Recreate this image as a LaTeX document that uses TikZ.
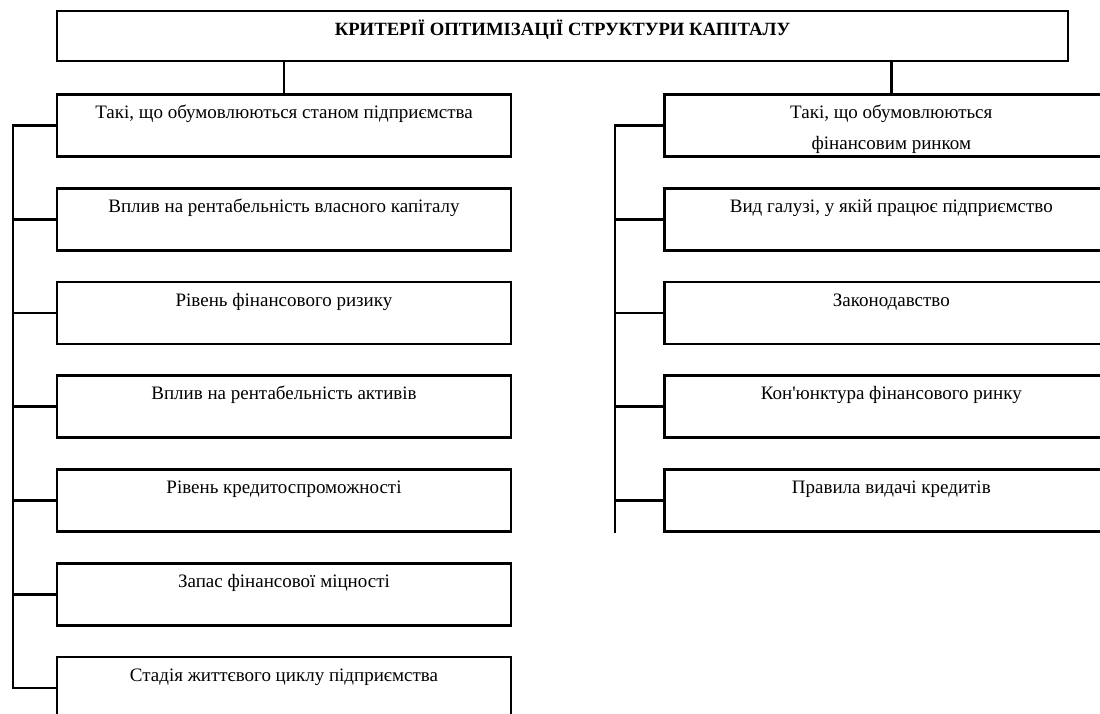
\documentclass[tikz,border=0pt]{standalone}
\usepackage{fontspec}
\setmainfont{Liberation Serif}[Ligatures=TeXOff]
\newcommand\ls{\rule[-5pt]{0pt}{27pt}}
\begin{document}
\begin{tikzpicture}[x=1pt,y=-1pt,
  box/.style={draw, line width=2.6pt, rectangle, minimum width=454pt, minimum height=62pt,
    align=center, inner sep=0pt, font=\fontsize{19}{31}\selectfont},
  tbox/.style={draw, line width=2.6pt, rectangle, minimum width=1011pt, minimum height=50pt,
    inner sep=0pt, text height=10pt, text depth=12pt, font=\bfseries\fontsize{18.7}{22}\selectfont},
  conn/.style={line width=2.6pt}]
\useasboundingbox (0,0) rectangle (1100,713);
\clip (0,0) rectangle (1100,713);
\node[tbox] (T) at (562.5,36) {КРИТЕРІЇ ОПТИМІЗАЦІЇ СТРУКТУРИ КАПІТАЛУ};
% left column
\node[box] (L1) at (284,125.5) {\ls Такі, що обумовлюються станом підприємства\\\ls};
\node[box] (L2) at (284,219.25) {\ls Вплив на рентабельність власного капіталу\\\ls};
\node[box] (L3) at (284,313) {\ls Рівень фінансового ризику\\\ls};
\node[box] (L4) at (284,406.75) {\ls Вплив на рентабельність активів\\\ls};
\node[box] (L5) at (284,500.5) {\ls Рівень кредитоспроможності\\\ls};
\node[box] (L6) at (284,594.25) {\ls Запас фінансової міцності\\\ls};
\node[box] (L7) at (284,688) {\ls Стадія життєвого циклу підприємства\\\ls};
% right column
\node[box, anchor=west] (R1) at (663,125.5) {\ls Такі, що обумовлюються\\\ls фінансовим ринком};
\node[box, anchor=west] (R2) at (663,219.25) {\ls Вид галузі, у якій працює підприємство\\\ls};
\node[box, anchor=west] (R3) at (663,313) {\ls Законодавство\\\ls};
\node[box, anchor=west] (R4) at (663,406.75) {\ls Кон'юнктура фінансового ринку\\\ls};
\node[box, anchor=west] (R5) at (663,500.5) {\ls Правила видачі кредитів\\\ls};
% bracket coordinates
\coordinate (lb) at (13,0);
\coordinate (rb) at (615,0);
% stems
\draw[conn] (T.south -| L1.north) -- (L1.north);
\draw[conn] (T.south -| R1.north) -- (R1.north);
% left bracket
\draw[conn] (L1.west) -- (L1.west -| lb) -- (L7.west -| lb) -- (L7.west);
\foreach \n in {L2,L3,L4,L5,L6} \draw[conn] (\n.west -| lb) -- (\n.west);
% right bracket
\draw[conn] (R1.west) -- (R1.west -| rb) -- (R5.south -| rb);
\foreach \n in {R2,R3,R4,R5} \draw[conn] (\n.west -| rb) -- (\n.west);
\end{tikzpicture}
\end{document}
